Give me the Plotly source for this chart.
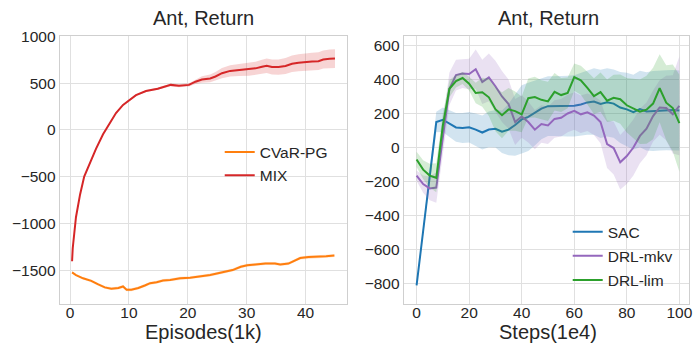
import plotly.graph_objects as go

# ---------------- Left panel data (Episodes in 1k) ----------------
episodes_cvar = [0.34, 1.0, 2.2, 3.6, 4.7, 5.9, 7.0, 8.2, 9.0, 9.6, 10.4, 11.6, 12.7, 13.6,
                 14.7, 15.8, 17.0, 18.7, 20.4, 22.1, 23.8, 25.9, 27.6, 29.0, 30.1, 31.5,
                 33.2, 34.8, 35.7, 37.1, 37.9, 39.1, 40.5, 42.1, 43.5, 44.9]
cvar_pg = [-1525, -1553, -1588, -1615, -1651, -1685, -1699, -1692, -1675, -1710, -1710,
           -1692, -1665, -1640, -1630, -1612, -1605, -1588, -1581, -1567, -1553, -1524,
           -1500, -1465, -1448, -1441, -1430, -1430, -1441, -1430, -1406, -1371, -1360,
           -1360, -1353, -1343]
cvar_pg_std = [12, 12, 13, 14, 14, 15, 15, 16, 16, 16, 16, 16, 16, 16, 16, 16, 16, 16, 16,
               16, 16, 16, 16, 16, 16, 16, 16, 16, 16, 16, 16, 16, 16, 16, 16, 16]

episodes_mix = [0.34, 0.45, 1.0, 1.7, 2.4, 3.3, 4.4, 5.6, 6.7, 7.8, 9.0, 10.1, 11.2, 12.9,
                14.9, 17.1, 18.5, 20.2, 21.3, 22.4, 23.8, 24.7, 25.8, 27.2, 28.7, 30.4,
                31.5, 32.6, 33.4, 34.3, 35.4, 36.6, 37.7, 38.8, 39.9, 41.1, 42.2, 43.0,
                44.1, 45.0]
mix = [-1405, -1266, -934, -690, -499, -359, -202, -45, 76, 181, 269, 321, 373, 418, 442,
       483, 474, 483, 517, 541, 552, 573, 608, 633, 643, 650, 660, 678, 688, 674, 674, 685,
       709, 720, 730, 734, 737, 755, 762, 765]
mix_std = [5, 5, 8, 8, 8, 8, 8, 8, 8, 8, 8, 8, 8, 10, 12, 15, 15, 18, 25, 35, 42, 48, 55,
           60, 65, 70, 72, 75, 78, 80, 82, 85, 88, 90, 92, 94, 95, 97, 99, 100]

# ---------------- Right panel data (Steps in 1e4) ----------------
steps = [0, 2.5, 5, 7.5, 10, 12.5, 15, 17.5, 20, 22.5, 25, 27.5, 30, 32.5, 35, 37.5, 40,
         42.5, 45, 47.5, 50, 52.5, 55, 57.5, 60, 62.5, 65, 67.5, 70, 72.5, 75, 77.5, 80,
         82.5, 85, 87.5, 90, 92.5, 95, 97.5, 100]
sac = [-810, -490, -170, 150, 163, 140, 118, 114, 119, 105, 88, 106, 110, 93, 105, 132, 165,
       180, 202, 228, 243, 243, 243, 243, 245, 253, 265, 270, 256, 265, 258, 235, 224, 208,
       226, 212, 214, 218, 219, 220, 217]
sac_std = [5, 25, 45, 60, 72, 78, 84, 88, 90, 95, 100, 105, 110, 125, 150, 180, 200, 200,
           190, 180, 175, 175, 175, 178, 180, 185, 190, 195, 200, 200, 200, 208, 215, 220,
           225, 230, 235, 235, 235, 235, 235]
drl_mkv = [-165, -215, -240, -235, 60, 345, 425, 435, 432, 460, 385, 412, 360, 300, 255,
           150, 182, 150, 105, 138, 130, 168, 175, 200, 215, 195, 207, 188, 150, 20, -3, -87,
           -50, 0, 68, 110, 185, 235, 232, 195, 245]
drl_mkv_std = [30, 50, 70, 90, 100, 95, 90, 85, 90, 115, 130, 140, 150, 150, 145, 135, 125,
               120, 115, 110, 110, 110, 110, 110, 110, 110, 110, 115, 125, 140, 155, 160,
               165, 165, 160, 155, 150, 160, 190, 230, 290]
drl_lim = [-70, -130, -165, -178, 130, 345, 390, 408, 375, 320, 325, 295, 225, 190, 224,
           214, 195, 290, 296, 280, 271, 327, 308, 321, 413, 395, 350, 302, 325, 275, 292,
           284, 248, 228, 210, 222, 258, 348, 263, 232, 143]
drl_lim_std = [45, 55, 70, 85, 70, 50, 38, 35, 40, 60, 85, 110, 130, 135, 125, 115, 105,
               115, 120, 115, 115, 110, 100, 90, 80, 85, 95, 105, 115, 125, 135, 145, 160,
               175, 190, 200, 210, 200, 220, 255, 285]

FONT = "Liberation Sans, Arial, sans-serif"
W, H = 693, 346


def band(x, y, s, fill, xa, ya):
    upper = [a + b for a, b in zip(y, s)]
    lower = [a - b for a, b in zip(y, s)]
    return go.Scatter(x=list(x) + list(x)[::-1], y=upper + lower[::-1], fill="toself",
                      fillcolor=fill, line=dict(width=0), mode="lines", hoverinfo="skip",
                      showlegend=False, xaxis=xa, yaxis=ya)


def line(x, y, name, color, xa, ya, legend, grp):
    return go.Scatter(x=x, y=y, name=name, mode="lines", line=dict(color=color, width=2),
                      xaxis=xa, yaxis=ya, legend=legend, legendgroup=grp)


fig = go.Figure()
# left panel
fig.add_trace(line(episodes_cvar, cvar_pg, "CVaR-PG", "#ff7f0e", "x", "y", "legend", "a"))
fig.add_trace(band(episodes_cvar, cvar_pg, cvar_pg_std, "rgba(255,127,14,0.2)", "x", "y"))
fig.add_trace(line(episodes_mix, mix, "MIX", "#d62728", "x", "y", "legend", "b"))
fig.add_trace(band(episodes_mix, mix, mix_std, "rgba(214,39,40,0.2)", "x", "y"))
# right panel
fig.add_trace(line(steps, sac, "SAC", "#1f77b4", "x2", "y2", "legend2", "c"))
fig.add_trace(band(steps, sac, sac_std, "rgba(31,119,180,0.2)", "x2", "y2"))
fig.add_trace(line(steps, drl_mkv, "DRL-mkv", "#9467bd", "x2", "y2", "legend2", "d"))
fig.add_trace(band(steps, drl_mkv, drl_mkv_std, "rgba(148,103,189,0.2)", "x2", "y2"))
fig.add_trace(line(steps, drl_lim, "DRL-lim", "#2ca02c", "x2", "y2", "legend2", "e"))
fig.add_trace(band(steps, drl_lim, drl_lim_std, "rgba(44,160,44,0.2)", "x2", "y2"))

ydom = [1 - 303 / H, 1 - 29 / H]
axis_common = dict(showgrid=True, gridcolor="#e0e0e0", gridwidth=1, showline=True,
                   linecolor="#cfcfcf", linewidth=1, mirror=True, zeroline=False,
                   ticks="", ticklen=0, tickfont=dict(family=FONT, size=15.5, color="#262626"),
                   ticklabeloverflow="allow")

fig.update_layout(
    width=W, height=H, margin=dict(l=0, r=0, t=0, b=0),
    paper_bgcolor="white", plot_bgcolor="white",
    font=dict(family=FONT, color="#262626"),
    xaxis=dict(domain=[60 / W, 349 / W], range=[-1.77, 47.04], tickvals=[0, 10, 20, 30, 40],
               anchor="y", ticklabelstandoff=-6, **axis_common),
    yaxis=dict(domain=ydom, range=[-1863, 1003],
               tickvals=[-1500, -1000, -500, 0, 500, 1000], anchor="x",
               ticklabelstandoff=0, **axis_common),
    xaxis2=dict(domain=[406 / W, 1.0], range=[-4.92, 103.67],
                tickvals=[0, 20, 40, 60, 80, 100], anchor="y2", ticklabelstandoff=-6,
                **axis_common),
    yaxis2=dict(domain=ydom, range=[-919, 653],
                tickvals=[-800, -600, -400, -200, 0, 200, 400, 600], anchor="x2",
                ticklabelstandoff=0, **axis_common),
    legend=dict(x=221 / W, y=1 - 130.5 / H, xanchor="left", yanchor="top",
                bgcolor="rgba(0,0,0,0)", font=dict(family=FONT, size=15.5, color="#262626"),
                tracegroupgap=0, traceorder="grouped"),
    legend2=dict(x=571 / W, y=1 - 212 / H, xanchor="left", yanchor="top",
                 bgcolor="rgba(0,0,0,0)", font=dict(family=FONT, size=15.5, color="#262626"),
                 tracegroupgap=1, traceorder="grouped"),
    showlegend=True,
)

ann_font = dict(family=FONT, size=20, color="#262626")
for xc, txt in [(204.5, "Ant, Return"), (551.5, "Ant, Return")]:
    fig.add_annotation(x=xc / W, y=1 - 10 / H, xref="paper", yref="paper", text=txt,
                       showarrow=False, font=ann_font, xanchor="center", yanchor="middle")
for xc, txt in [(204.5, "Episodes(1k)"), (551.5, "Steps(1e4)")]:
    fig.add_annotation(x=xc / W, y=1 - 332 / H, xref="paper", yref="paper", text=txt,
                       showarrow=False, font=ann_font, xanchor="center", yanchor="middle")

fig.write_html("out.html")
